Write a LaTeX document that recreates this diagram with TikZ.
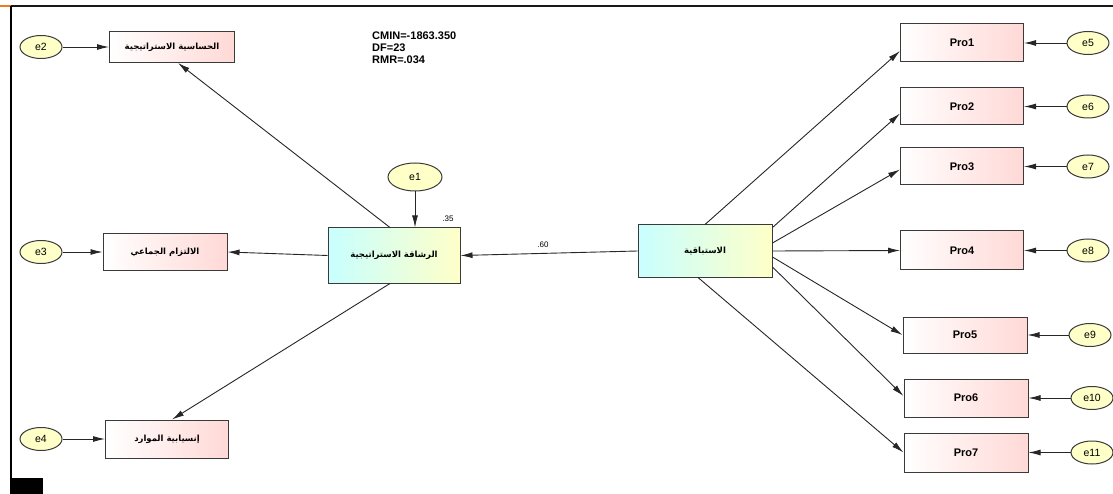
\documentclass[tikz,border=0pt]{standalone}
\usepackage{fontspec}
\setmainfont{Liberation Sans}
\newfontfamily\arabicfont[Script=Arabic]{DejaVu Sans}
\TeXXeTstate=1
\usetikzlibrary{arrows.meta,shapes.geometric}
\definecolor{rosy}{HTML}{FFD9D6}
\definecolor{cream}{HTML}{FFFFC8}
\definecolor{aqua}{HTML}{C8FFFF}
\definecolor{edge}{HTML}{3A3A3A}
\definecolor{tangerine}{HTML}{F07A18}
\tikzset{obsbox/.style={draw=edge,line width=1pt,left color=white,right color=rosy,minimum width=124pt,minimum height=38pt,inner sep=0pt,font=\bfseries\fontsize{11}{12}\selectfont}, latbox/.style={draw=edge,line width=1pt,left color=aqua,right color=cream,minimum width=133pt,minimum height=53pt,inner sep=0pt}, errnode/.style={ellipse,draw=edge,line width=1pt,fill=cream,minimum width=42pt,minimum height=23pt,inner sep=0pt,font=\fontsize{10.5}{12}\selectfont}, path/.style={-{Latex[length=12pt,width=6pt]},line width=0.9pt,draw=black!85}}
\newcommand{\artext}[1]{\beginR #1\endR}

\begin{document}
\begin{tikzpicture}[x=1pt,y=-1pt]
\useasboundingbox (0,0) rectangle (1113,494);
% frame
\draw[tangerine,line width=2.4pt] (0,6)--(11,6);
\draw[black!90,line width=2.4pt] (11,6)--(1113,6);
\draw[black,line width=2.4pt] (11,6)--(11,494);
\fill[black] (10,478) rectangle (43,494);
% fit values
\node[anchor=north west,align=left,inner sep=0pt,font=\bfseries\fontsize{11}{12}\selectfont] (fit) at (372,32) {CMIN=-1863.350\\DF=23\\RMR=.034};
% left side
\node[obsbox,minimum width=125pt,minimum height=31pt] (hs) at (172,47) {\arabicfont\fontsize{8.5}{10}\selectfont\artext{الحساسية الاستراتيجية}};
\node[obsbox,minimum height=37pt] (lt) at (165,252) {\arabicfont\fontsize{8.5}{10}\selectfont\artext{الالتزام  الجماعي}};
\node[obsbox,minimum width=123pt] (ins) at (167,439) {\arabicfont\fontsize{8.5}{10}\selectfont\artext{إنسيابية الموارد}};
\node[errnode] (e2) at (41,47) {e2};
\node[errnode] (e3) at (41,252) {e3};
\node[errnode] (e4) at (41,439) {e4};
% constructs
\node[latbox,minimum width=132pt,minimum height=55pt] (ras) at (394,255.5) {\arabicfont\bfseries\fontsize{8.5}{10}\selectfont\artext{الرشاقة الاستراتيجية}};
\node[latbox,minimum width=134pt,minimum height=52pt] (ant) at (705,251) {\arabicfont\bfseries\fontsize{8.5}{10}\selectfont\artext{الاستباقية}};
\node[errnode,minimum width=54pt,minimum height=28pt] (e1) at (415,177) {e1};
\node[font=\fontsize{8}{9}\selectfont,inner sep=1pt] (r2) at (448,219) {.35};
\node[font=\fontsize{8}{9}\selectfont,inner sep=1pt] (w1) at (543,245) {.60};
% right side
\node[obsbox,minimum width=123pt] (pro1) at (962,43) {Pro1};
\node[obsbox,minimum width=123pt,minimum height=37pt] (pro2) at (962,106.5) {Pro2};
\node[obsbox,minimum width=123pt,minimum height=37pt] (pro3) at (962,166.5) {Pro3};
\node[obsbox,minimum width=123pt,minimum height=39pt] (pro4) at (962,250.5) {Pro4};
\node[obsbox,minimum height=36pt] (pro5) at (965,335) {Pro5};
\node[obsbox] (pro6) at (966,398) {Pro6};
\node[obsbox,minimum height=39pt] (pro7) at (966,452.5) {Pro7};
\node[errnode] (e5) at (1088,43) {e5};
\node[errnode] (e6) at (1088,106.5) {e6};
\node[errnode] (e7) at (1088,166.5) {e7};
\node[errnode] (e8) at (1088,250.5) {e8};
\node[errnode] (e9) at (1090,335) {e9};
\node[errnode] (e10) at (1092,398) {e10};
\node[errnode] (e11) at (1092,452.5) {e11};
% paths
\draw[path] ([xshift=-4pt]ras.north)--([xshift=6pt]hs.south);
\draw[path] (ras.west)--(lt.east);
\draw[path] ([xshift=-4pt]ras.south)--([xshift=5pt]ins.north);
\draw[path] (e1.south)--([xshift=21pt]ras.north);
\draw[path] (ant.west)--(ras.east);
\draw[path] (ant.north)--([yshift=-8pt]pro1.west);
\draw[path] ([yshift=-3pt]ant.north east)--([yshift=-7pt]pro2.west);
\draw[path] ([yshift=8pt]ant.east)--([yshift=-3pt]pro3.west);
\draw[path] (ant.east)--(pro4.west);
\draw[path] ([yshift=-6pt]ant.east)--(pro5.west);
\draw[path] ([yshift=-16pt]ant.east)--([yshift=2pt]pro6.west);
\draw[path] ([xshift=-7pt]ant.south)--(pro7.west);
\foreach \e/\b in {e2/hs,e3/lt,e4/ins}
  \draw[path] (\e.east)--(\b.west);
\foreach \e/\b in {e5/pro1,e6/pro2,e7/pro3,e8/pro4,e9/pro5,e10/pro6,e11/pro7}
  \draw[path] (\e.west)--(\b.east);
\end{tikzpicture}
\end{document}
